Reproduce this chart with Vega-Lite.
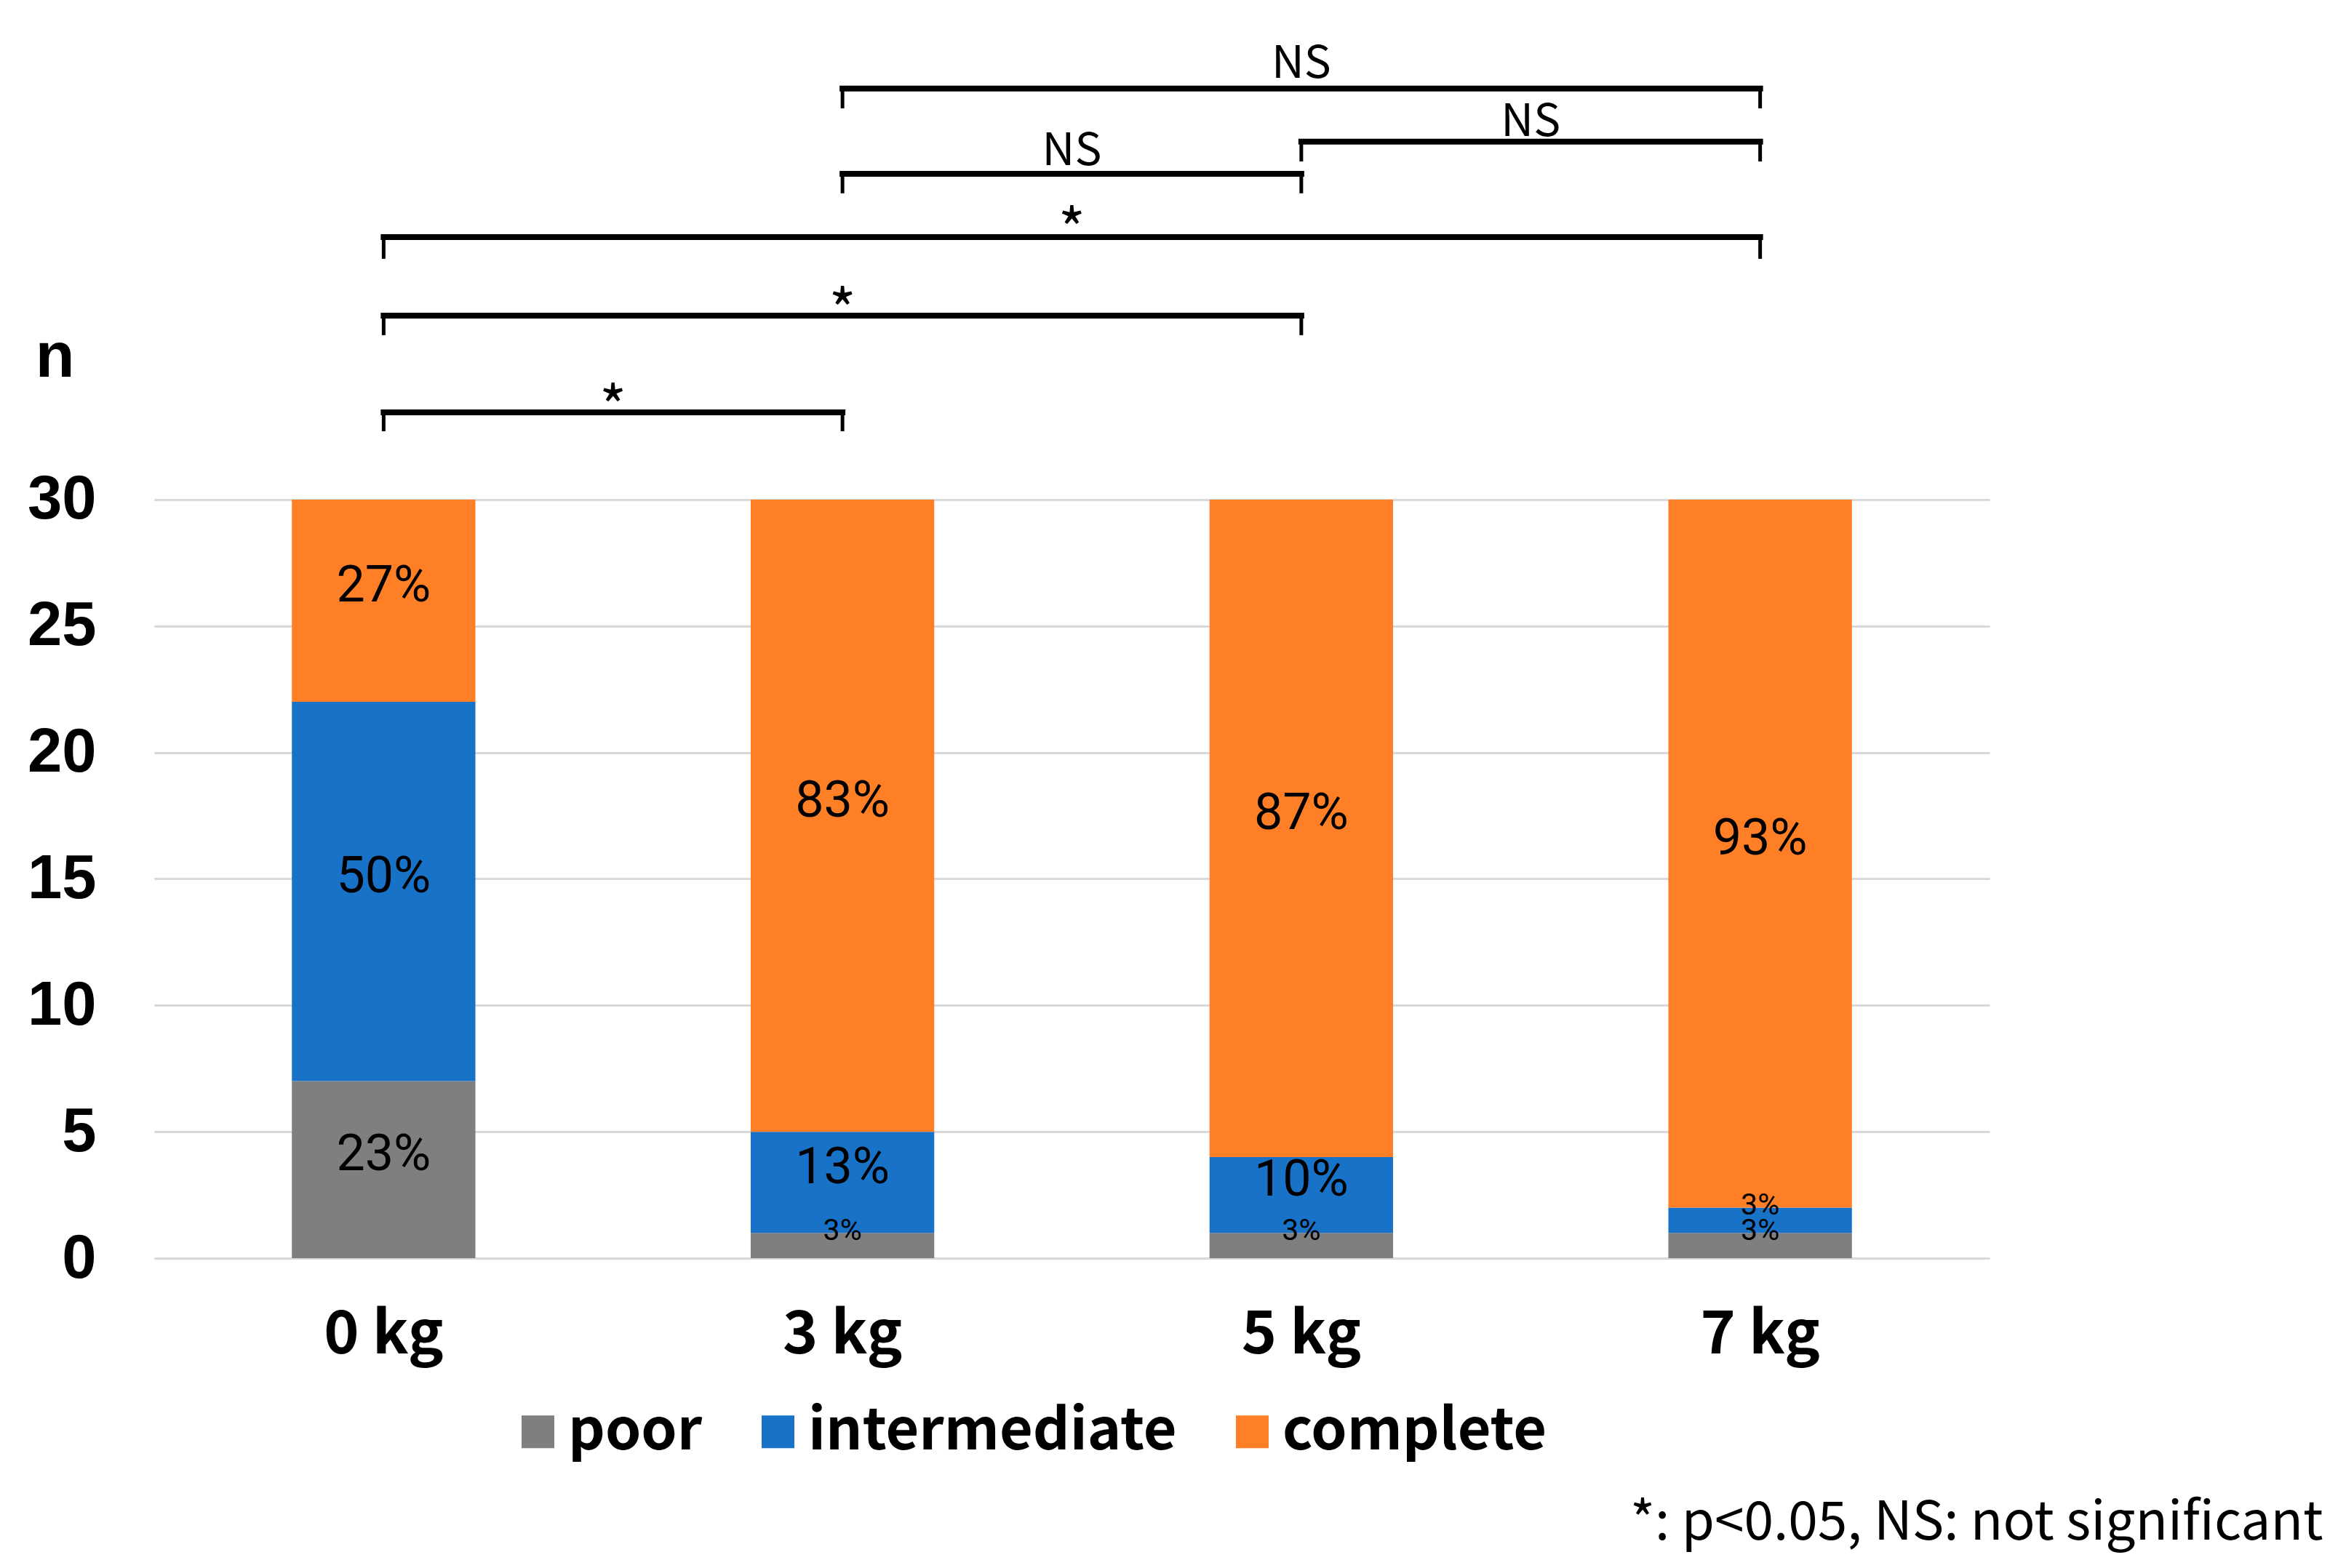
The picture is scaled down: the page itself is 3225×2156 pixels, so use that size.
{
  "$schema": "https://vega.github.io/schema/vega-lite/v6.json",
  "width": 2523,
  "height": 1669,
  "autosize": {"type": "none"},
  "padding": {"left": 212, "top": 61, "right": 490, "bottom": 426},
  "background": "white",
  "config": {
    "view": {"stroke": null},
    "axisY": {
      "domain": false, "ticks": false, "tickSize": 0,
      "grid": true, "gridColor": "#d9d9d9", "gridWidth": 3,
      "labelFont": "Liberation Sans", "labelFontWeight": "bold", "labelFontSize": 85,
      "labelColor": "#000000", "labelPadding": 80,
      "titleAngle": 0,
      "titleFont": "Liberation Sans", "titleFontWeight": "bold", "titleFontSize": 88,
      "titleColor": "#000000", "titleX": -137, "titleY": 456,
      "titleAlign": "center", "titleBaseline": "alphabetic"
    }
  },
  "datasets": {
    "counts": [
      {"weight": "0 kg", "status": "poor", "rank": 1, "n": 7, "pct": "23%"},
      {"weight": "0 kg", "status": "intermediate", "rank": 2, "n": 15, "pct": "50%"},
      {"weight": "0 kg", "status": "complete", "rank": 3, "n": 8, "pct": "27%"},
      {"weight": "3 kg", "status": "poor", "rank": 1, "n": 1, "pct": "3%"},
      {"weight": "3 kg", "status": "intermediate", "rank": 2, "n": 4, "pct": "13%"},
      {"weight": "3 kg", "status": "complete", "rank": 3, "n": 25, "pct": "83%"},
      {"weight": "5 kg", "status": "poor", "rank": 1, "n": 1, "pct": "3%"},
      {"weight": "5 kg", "status": "intermediate", "rank": 2, "n": 3, "pct": "10%"},
      {"weight": "5 kg", "status": "complete", "rank": 3, "n": 26, "pct": "87%"},
      {"weight": "7 kg", "status": "poor", "rank": 1, "n": 1, "pct": "3%"},
      {"weight": "7 kg", "status": "intermediate", "rank": 2, "n": 1, "pct": "3%"},
      {"weight": "7 kg", "status": "complete", "rank": 3, "n": 28, "pct": "93%"}
    ],
    "brackets": [
      {"pair": "3 kg - 7 kg", "left": 1, "right": 3, "mid": 2, "yLine": 46.25, "yTick": 45.47, "yText": 46.68, "label": "NS"},
      {"pair": "5 kg - 7 kg", "left": 2, "right": 3, "mid": 2.5, "yLine": 44.15, "yTick": 43.37, "yText": 44.38, "label": "NS"},
      {"pair": "3 kg - 5 kg", "left": 1, "right": 2, "mid": 1.5, "yLine": 42.88, "yTick": 42.11, "yText": 43.23, "label": "NS"},
      {"pair": "0 kg - 7 kg", "left": 0, "right": 3, "mid": 1.5, "yLine": 40.38, "yTick": 39.52, "yText": 39.8, "label": "*"},
      {"pair": "0 kg - 5 kg", "left": 0, "right": 2, "mid": 1, "yLine": 37.27, "yTick": 36.5, "yText": 36.6, "label": "*"},
      {"pair": "0 kg - 3 kg", "left": 0, "right": 1, "mid": 0.5, "yLine": 33.45, "yTick": 32.7, "yText": 32.8, "label": "*"}
    ]
  },
  "layer": [
    {
      "data": {"name": "counts"},
      "mark": {"type": "bar", "strokeWidth": 0},
      "encoding": {
        "x": {
          "field": "weight", "type": "nominal",
          "sort": ["0 kg", "3 kg", "5 kg", "7 kg"],
          "scale": {"paddingInner": 0.6, "paddingOuter": 0.3},
          "axis": {
            "domain": false, "ticks": false, "tickSize": 0, "grid": false,
            "labelAngle": 0,
            "labelFont": "Noto Sans CJK JP", "labelFontWeight": "bold", "labelFontSize": 82,
            "labelColor": "#000000", "labelBaseline": "alphabetic", "labelPadding": 130,
            "title": "*: p<0.05, NS: not significant",
            "titleFont": "Noto Sans CJK JP", "titleFontWeight": "normal", "titleFontSize": 73,
            "titleColor": "#000000", "titleX": 2981, "titleY": 386,
            "titleAlign": "right", "titleAnchor": null, "titleBaseline": "alphabetic"
          }
        },
        "y": {
          "field": "n", "type": "quantitative",
          "scale": {"domain": [0, 48], "nice": false},
          "axis": {"values": [0, 5, 10, 15, 20, 25, 30], "title": "n"}
        },
        "color": {
          "field": "status", "type": "nominal",
          "scale": {"domain": ["poor", "intermediate", "complete"], "range": ["#7f7f7f", "#1872c8", "#fe7f26"]},
          "legend": {
            "orient": "none", "direction": "horizontal", "title": null,
            "legendX": 488, "legendY": 1868, "padding": 0, "offset": 0,
            "symbolType": "square", "symbolSize": 2025, "symbolStrokeWidth": 0,
            "labelFont": "Noto Sans CJK JP", "labelFontWeight": "bold", "labelFontSize": 79,
            "labelColor": "#000000", "labelOffset": 2, "columnPadding": 64, "labelLimit": 0
          }
        },
        "order": {"field": "rank", "type": "quantitative"}
      }
    },
    {
      "data": {"name": "counts"},
      "mark": {"type": "text", "font": "Roboto", "fontWeight": "normal", "color": "#000000", "baseline": "middle", "align": "center", "dy": -20},
      "encoding": {
        "x": {
          "field": "weight", "type": "nominal",
          "sort": ["0 kg", "3 kg", "5 kg", "7 kg"],
          "scale": {"paddingInner": 0.6, "paddingOuter": 0.3},
          "axis": null
        },
        "y": {
          "field": "n", "type": "quantitative", "stack": "zero", "bandPosition": 0.5,
          "scale": {"domain": [0, 48], "nice": false},
          "axis": {"values": [0, 5, 10, 15, 20, 25, 30], "title": "n"}
        },
        "detail": {"field": "status", "type": "nominal"},
        "order": {"field": "rank", "type": "quantitative"},
        "text": {"field": "pct", "type": "nominal"},
        "size": {"condition": {"test": "datum.n < 2", "value": 41}, "value": 70}
      }
    },
    {
      "data": {"name": "brackets"},
      "mark": {"type": "rule", "color": "#000000", "strokeWidth": 8, "strokeCap": "square"},
      "encoding": {
        "x": {"field": "left", "type": "quantitative", "scale": {"domain": [-0.5, 3.5], "nice": false, "zero": false}, "axis": null},
        "x2": {"field": "right"},
        "y": {"field": "yLine", "type": "quantitative", "scale": {"domain": [0, 48], "nice": false}, "axis": {"values": [0, 5, 10, 15, 20, 25, 30], "title": "n"}}
      }
    },
    {
      "data": {"name": "brackets"},
      "mark": {"type": "rule", "color": "#000000", "strokeWidth": 5},
      "encoding": {
        "x": {"field": "left", "type": "quantitative", "scale": {"domain": [-0.5, 3.5], "nice": false, "zero": false}, "axis": null},
        "y": {"field": "yLine", "type": "quantitative", "scale": {"domain": [0, 48], "nice": false}, "axis": {"values": [0, 5, 10, 15, 20, 25, 30], "title": "n"}},
        "y2": {"field": "yTick"}
      }
    },
    {
      "data": {"name": "brackets"},
      "mark": {"type": "rule", "color": "#000000", "strokeWidth": 5},
      "encoding": {
        "x": {"field": "right", "type": "quantitative", "scale": {"domain": [-0.5, 3.5], "nice": false, "zero": false}, "axis": null},
        "y": {"field": "yLine", "type": "quantitative", "scale": {"domain": [0, 48], "nice": false}, "axis": {"values": [0, 5, 10, 15, 20, 25, 30], "title": "n"}},
        "y2": {"field": "yTick"}
      }
    },
    {
      "data": {"name": "brackets"},
      "mark": {"type": "text", "font": "Noto Sans CJK JP", "color": "#000000", "baseline": "alphabetic", "align": "center"},
      "encoding": {
        "x": {"field": "mid", "type": "quantitative", "scale": {"domain": [-0.5, 3.5], "nice": false, "zero": false}, "axis": null},
        "y": {"field": "yText", "type": "quantitative", "scale": {"domain": [0, 48], "nice": false}, "axis": {"values": [0, 5, 10, 15, 20, 25, 30], "title": "n"}},
        "text": {"field": "label", "type": "nominal"},
        "size": {"condition": {"test": "datum.label === '*'", "value": 80}, "value": 62}
      }
    }
  ],
  "resolve": {"scale": {"x": "independent"}}
}
